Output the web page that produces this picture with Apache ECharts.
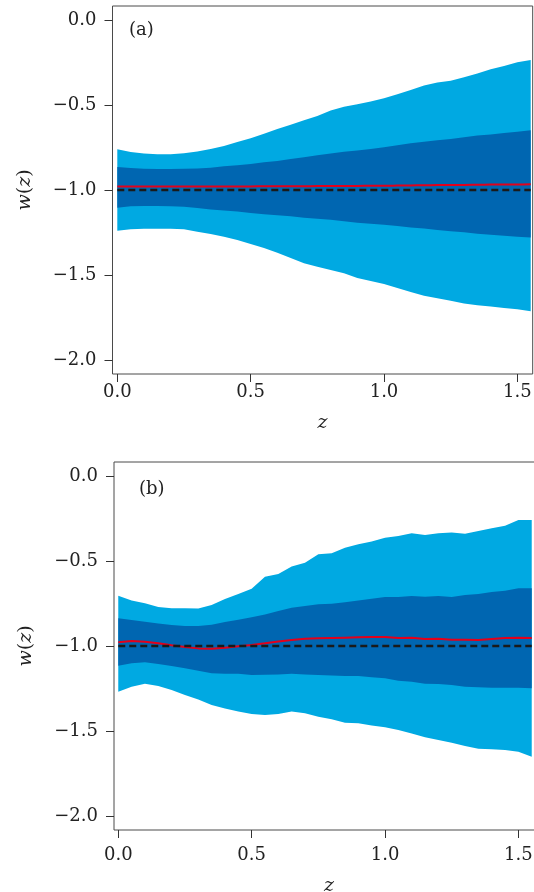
<!DOCTYPE html>
<html>
<head>
<meta charset="utf-8">
<script src="https://cdn.jsdelivr.net/npm/echarts@6/dist/echarts.min.js"></script>
<style>
html,body{margin:0;padding:0;background:#fff;}
#chart{width:534px;height:892px;}
</style>
</head>
<body>
<div id="chart"></div>
<script>
// redshift grid
const zVals = [0.00,0.05,0.10,0.15,0.20,0.25,0.30,0.35,0.40,0.45,0.50,0.55,0.60,0.65,0.70,0.75,0.80,0.85,0.90,0.95,1.00,1.05,1.10,1.15,1.20,1.25,1.30,1.35,1.40,1.45,1.50,1.55];
const xTicks = [0, 0.5, 1.0, 1.5];
const yTicks = [-2.0, -1.5, -1.0, -0.5, 0.0];
const wLCDM = -1;

// panel (a)
const aUp95 = [-0.761,-0.776,-0.786,-0.790,-0.790,-0.784,-0.773,-0.759,-0.741,-0.718,-0.696,-0.669,-0.641,-0.616,-0.590,-0.565,-0.533,-0.510,-0.496,-0.480,-0.461,-0.437,-0.412,-0.386,-0.367,-0.357,-0.337,-0.314,-0.290,-0.271,-0.249,-0.235];
const aUp68 = [-0.865,-0.871,-0.875,-0.876,-0.876,-0.875,-0.873,-0.869,-0.861,-0.855,-0.847,-0.837,-0.829,-0.818,-0.808,-0.796,-0.786,-0.775,-0.767,-0.759,-0.749,-0.737,-0.725,-0.716,-0.708,-0.700,-0.690,-0.680,-0.673,-0.665,-0.657,-0.649];
const aLo68 = [-1.104,-1.096,-1.094,-1.094,-1.096,-1.098,-1.106,-1.114,-1.120,-1.127,-1.135,-1.143,-1.149,-1.155,-1.163,-1.169,-1.175,-1.184,-1.192,-1.198,-1.204,-1.212,-1.220,-1.227,-1.235,-1.243,-1.249,-1.257,-1.263,-1.269,-1.275,-1.280];
const aLo95 = [-1.239,-1.231,-1.228,-1.228,-1.228,-1.231,-1.245,-1.259,-1.275,-1.294,-1.318,-1.341,-1.369,-1.400,-1.431,-1.451,-1.471,-1.490,-1.518,-1.535,-1.553,-1.576,-1.600,-1.622,-1.637,-1.651,-1.667,-1.678,-1.686,-1.694,-1.702,-1.714];
const aBest = [-0.980,-0.980,-0.980,-0.980,-0.980,-0.980,-0.980,-0.979,-0.979,-0.979,-0.979,-0.978,-0.978,-0.978,-0.978,-0.977,-0.977,-0.976,-0.976,-0.975,-0.975,-0.974,-0.973,-0.972,-0.971,-0.970,-0.970,-0.969,-0.968,-0.967,-0.967,-0.966];

// panel (b)
const bUp95 = [-0.704,-0.733,-0.749,-0.771,-0.778,-0.778,-0.780,-0.759,-0.724,-0.694,-0.663,-0.592,-0.576,-0.533,-0.510,-0.461,-0.455,-0.422,-0.402,-0.386,-0.363,-0.353,-0.337,-0.347,-0.337,-0.333,-0.339,-0.324,-0.308,-0.292,-0.259,-0.259];
const bUp68 = [-0.837,-0.847,-0.857,-0.867,-0.876,-0.882,-0.882,-0.875,-0.859,-0.845,-0.831,-0.814,-0.794,-0.775,-0.765,-0.755,-0.751,-0.743,-0.733,-0.722,-0.712,-0.712,-0.706,-0.710,-0.706,-0.712,-0.700,-0.694,-0.682,-0.675,-0.661,-0.661];
const bLo68 = [-1.116,-1.102,-1.096,-1.106,-1.118,-1.131,-1.145,-1.161,-1.163,-1.163,-1.171,-1.169,-1.167,-1.163,-1.167,-1.171,-1.173,-1.176,-1.176,-1.184,-1.190,-1.204,-1.210,-1.222,-1.224,-1.229,-1.239,-1.243,-1.245,-1.245,-1.245,-1.249];
const bLo95 = [-1.269,-1.239,-1.222,-1.235,-1.259,-1.288,-1.314,-1.347,-1.367,-1.386,-1.400,-1.406,-1.400,-1.386,-1.396,-1.416,-1.431,-1.451,-1.455,-1.467,-1.478,-1.494,-1.514,-1.537,-1.553,-1.569,-1.588,-1.604,-1.608,-1.612,-1.622,-1.651];
const bBest = [-0.978,-0.971,-0.975,-0.984,-0.996,-1.006,-1.014,-1.016,-1.010,-1.002,-0.994,-0.984,-0.973,-0.965,-0.957,-0.955,-0.953,-0.951,-0.949,-0.947,-0.947,-0.953,-0.951,-0.959,-0.957,-0.963,-0.963,-0.965,-0.959,-0.953,-0.951,-0.953];

const LIGHT = '#00A9E2', DARK = '#0066B1', RED = '#E3001B';
const FONT = 'DejaVu Serif';

function pairs(ys){ return zVals.map((z,i)=>[z, ys[i]]); }

function bandSeries(idx, lo, up, color){
  return {
    type:'custom', xAxisIndex:idx, yAxisIndex:idx, silent:true, z:2,
    data: zVals.map((z,i)=>[z, lo[i], up[i]]),
    encode:{x:0, y:[1,2]},
    renderItem:function(params, api){
      if (params.dataIndex !== 0) return null;
      const pts = [];
      for (let j = 0; j < zVals.length; j++) pts.push(api.coord([zVals[j], up[j]]));
      for (let j = zVals.length - 1; j >= 0; j--) pts.push(api.coord([zVals[j], lo[j]]));
      return {type:'polygon', shape:{points:pts}, style:{fill:color, stroke:null}};
    }
  };
}
function panelSeries(idx, up95, up68, lo68, lo95, best, smooth){
  return [
    bandSeries(idx, lo95, up95, LIGHT),
    bandSeries(idx, lo68, up68, DARK),
    {type:'line', xAxisIndex:idx, yAxisIndex:idx, data:pairs(best), symbol:'none', smooth:smooth,
      lineStyle:{color:RED, width:2}, z:4},
    {type:'line', xAxisIndex:idx, yAxisIndex:idx, data:[[zVals[0], wLCDM],[zVals[zVals.length-1], wLCDM]],
      symbol:'none', lineStyle:{color:'#1a1a1a', width:2.6, type:[7,4]}, z:5}
  ];
}

function xAxisCfg(idx, min, max, labelMargin, nameGap){
  return {type:'value', gridIndex:idx, min:min, max:max,
    axisLine:{show:false, onZero:false}, splitLine:{show:false},
    axisTick:{show:true, customValues:xTicks, length:8, lineStyle:{color:'#333', width:1}},
    axisLabel:{customValues:xTicks, formatter:v=>v.toFixed(1), fontFamily:FONT, fontSize:18, color:'#222', margin:labelMargin},
    name:'z', nameLocation:'middle', nameGap:nameGap,
    nameTextStyle:{fontFamily:FONT, fontStyle:'italic', fontSize:19, color:'#222'}};
}
function yAxisCfg(idx){
  return {type:'value', gridIndex:idx, min:-2.0824, max:0.0824,
    axisLine:{show:false, onZero:false}, splitLine:{show:false},
    axisTick:{show:true, customValues:yTicks, length:8, lineStyle:{color:'#333', width:1}},
    axisLabel:{customValues:yTicks, formatter:v=>(v<0?'\u2212':'')+Math.abs(v).toFixed(1), fontFamily:FONT, fontSize:18, color:'#222', margin:16},
    name:'{i|w}({i|z})', nameLocation:'middle', nameGap:78, nameRotate:90,
    nameTextStyle:{fontFamily:FONT, fontSize:19, color:'#222',
      rich:{i:{fontFamily:FONT, fontStyle:'italic', fontSize:19, color:'#222'}}}};
}

const chart = echarts.init(document.getElementById('chart'), null, {renderer:'canvas'});
chart.setOption({
  backgroundColor:'#fff',
  animation:false,
  grid:[
    {left:112.5, top:6, width:420.2, height:368, show:true, borderColor:'#4a4a4a', borderWidth:1,
     backgroundColor:'transparent', containLabel:false, outerBoundsMode:'none'},
    {left:114, top:462, width:430, height:368, show:true, borderColor:'#4a4a4a', borderWidth:1,
     backgroundColor:'transparent', containLabel:false, outerBoundsMode:'none'}
  ],
  xAxis:[xAxisCfg(0, -0.018, 1.5575, 9, 40), xAxisCfg(1, -0.016, 1.596, 16, 47)],
  yAxis:[yAxisCfg(0), yAxisCfg(1)],
  series:[].concat(
    panelSeries(0, aUp95, aUp68, aLo68, aLo95, aBest, 0.3),
    panelSeries(1, bUp95, bUp68, bLo68, bLo95, bBest, false)
  ),
  graphic:[
    {type:'text', left:129, top:21, style:{text:'(a)', font:'18px "DejaVu Serif"', fill:'#222'}},
    {type:'text', left:139, top:480, style:{text:'(b)', font:'18px "DejaVu Serif"', fill:'#222'}}
  ]
});
</script>
</body>
</html>
